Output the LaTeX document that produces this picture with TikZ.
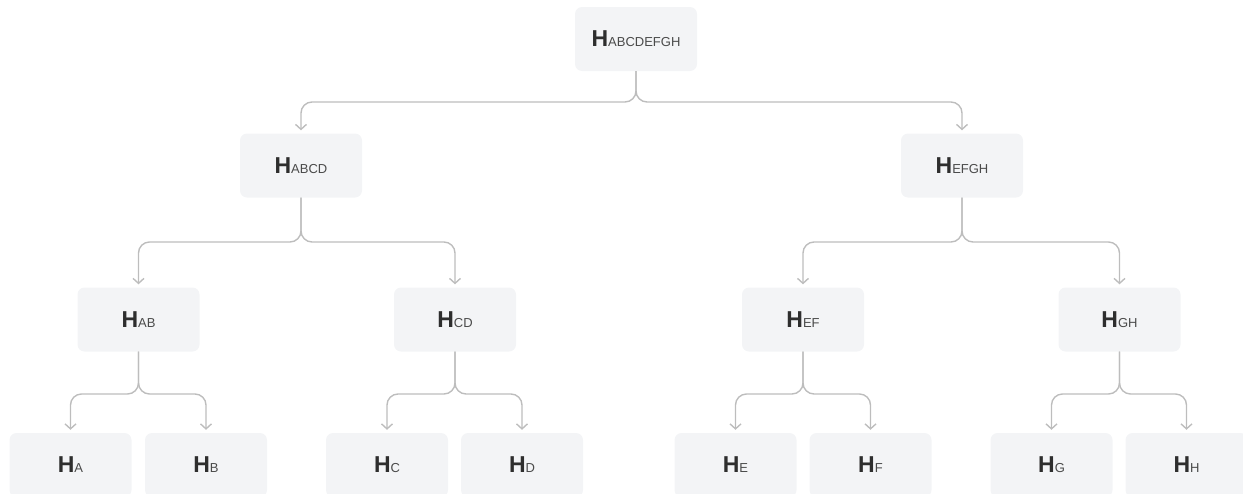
\documentclass[tikz,border=0pt]{standalone}
\usepackage{fontspec}
\setmainfont{Liberation Sans}
\usetikzlibrary{arrows.meta}
\definecolor{boxfill}{HTML}{F3F4F6}
\definecolor{linec}{HTML}{BDBDBD}
\definecolor{txtH}{HTML}{2E2E2E}
\definecolor{txtS}{HTML}{4A4A4A}
\newcommand{\hlab}[1]{{\fontsize{23}{25}\selectfont\bfseries\color{txtH}H}{\fontsize{13}{15}\selectfont\color{txtS}#1}}
\tikzset{
  hbox/.style={fill=boxfill, rounded corners=7pt, minimum width=122pt, minimum height=64pt, inner sep=0pt, anchor=center},
  conn/.style={draw=linec, line width=1.4pt, rounded corners=11pt, -{Straight Barb[length=5pt,width=11pt,line width=1.4pt]}, shorten >=3pt}
}
\begin{document}
\begin{tikzpicture}[x=1pt,y=-1pt]
\useasboundingbox (0,0) rectangle (1243,493);
\clip (0,0) rectangle (1243,493);
% level 1
\node[hbox] (r) at (636,39) {\hlab{ABCDEFGH}};
% level 2
\node[hbox] (abcd) at (301,165.5) {\hlab{ABCD}};
\node[hbox] (efgh) at (962,165.5) {\hlab{EFGH}};
% level 3
\node[hbox] (ab) at (138.5,319.5) {\hlab{AB}};
\node[hbox] (cd) at (455,319.5) {\hlab{CD}};
\node[hbox] (ef) at (803,319.5) {\hlab{EF}};
\node[hbox] (gh) at (1119.5,319.5) {\hlab{GH}};
% level 4
\node[hbox] (a) at (70.5,465) {\hlab{A}};
\node[hbox] (b) at (206,465) {\hlab{B}};
\node[hbox] (c) at (387,465) {\hlab{C}};
\node[hbox] (d) at (522,465) {\hlab{D}};
\node[hbox] (e) at (735.5,465) {\hlab{E}};
\node[hbox] (f) at (870.5,465) {\hlab{F}};
\node[hbox] (g) at (1051.5,465) {\hlab{G}};
\node[hbox] (h) at (1186.5,465) {\hlab{H}};
% junction coordinates
\coordinate (j1) at (0,102);
\coordinate (j2) at (0,242);
\coordinate (j3) at (0,394);
% connectors
\foreach \p/\c/\j in {r/abcd/j1, r/efgh/j1,
  abcd/ab/j2, abcd/cd/j2, efgh/ef/j2, efgh/gh/j2,
  ab/a/j3, ab/b/j3, cd/c/j3, cd/d/j3, ef/e/j3, ef/f/j3, gh/g/j3, gh/h/j3}{
  \draw[conn] (\p.south) -- (\p.south |- \j) -| (\c.north);
}
\end{tikzpicture}
\end{document}
